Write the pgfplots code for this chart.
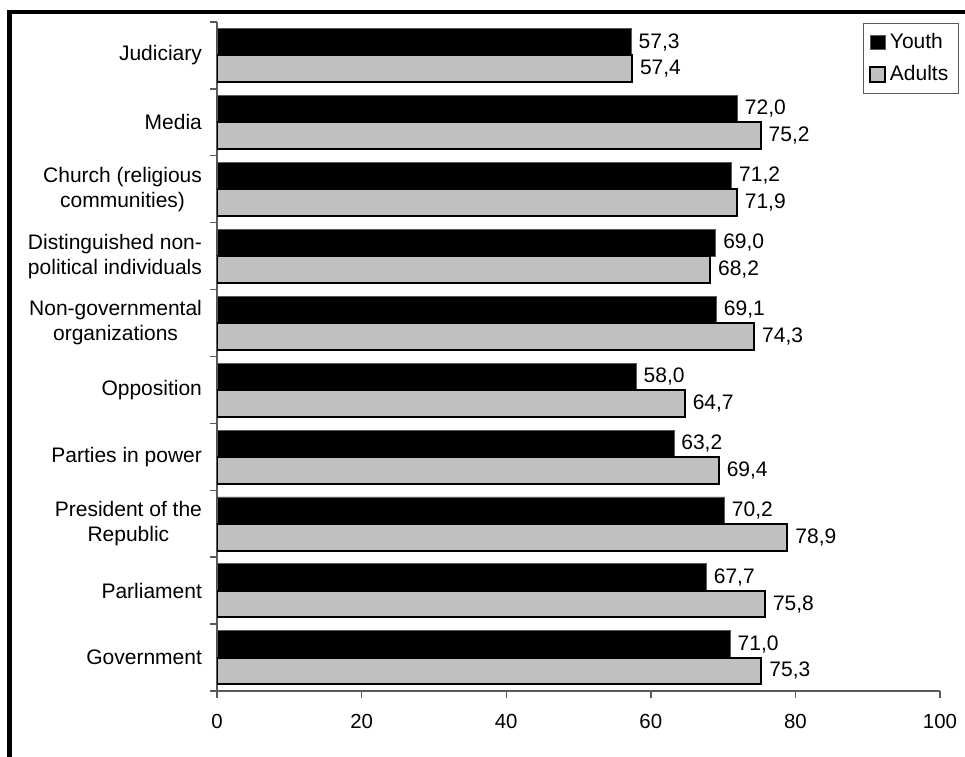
\documentclass[border=0pt]{standalone}
\usepackage{fontspec}
\setmainfont{Liberation Sans}
\usepackage{pgfplots}
\usepackage{pgfplotstable}
\pgfplotsset{compat=1.18}

% Trust in institutions (%), youth vs. adults; row 0 is the bottom category
\pgfplotstableread{
idx youth adults
0 71.0 75.3
1 67.7 75.8
2 70.2 78.9
3 63.2 69.4
4 58.0 64.7
5 69.1 74.3
6 69.0 68.2
7 71.2 71.9
8 72.0 75.2
9 57.3 57.4
}\trusttable

\definecolor{adultgray}{RGB}{192,192,192}
\definecolor{axisgray}{RGB}{90,90,90}

\begin{document}
\begin{tikzpicture}
\useasboundingbox (0,0) rectangle (482.5pt,378pt);
% heavy frame along the left and top
\draw[line width=2.4pt, line join=miter] (4.6pt,-5pt) -- (4.6pt,372pt) -- (490pt,372pt);
\begin{axis}[
  at={(108.5pt,32.5pt)}, anchor=south west,
  scale only axis, width=361.5pt, height=334.5pt,
  xbar, bar width=0.4,
  xmin=0, xmax=100, ymin=-0.5, ymax=9.5,
  axis x line*=bottom, axis y line*=left,
  axis line style={axisgray, line width=0.7pt},
  tick align=outside,
  tick style={axisgray, line width=0.7pt},
  major tick length=3.5pt,
  xtick={0,20,...,100},
  ytick={-0.5,0.5,...,9.5}, yticklabels={},
  extra y ticks={0,1,...,9},
  extra y tick labels={Government, Parliament, {President of the\\Republic},
    Parties in power, Opposition, {Non-governmental\\organizations},
    {Distinguished non-\\political individuals}, {Church (religious\\communities)},
    Media, Judiciary},
  extra y tick style={major tick length=0pt},
  yticklabel style={align=center, font=\fontsize{10.5}{12.5}\selectfont, xshift=-4pt},
  xticklabel style={font=\fontsize{10.2}{12}\selectfont, yshift=-4.5pt},
  /pgf/number format/assume math mode=true,
  legend style={at={(1.026,0.999)}, anchor=north east,
    draw=axisgray, line width=0.5pt, fill=white,
    font=\fontsize{10.5}{12.5}\selectfont,
    inner xsep=3pt, inner ysep=3pt, row sep=3pt,
    /tikz/every odd column/.append style={column sep=0pt}},
  legend cell align=left,
  legend image code/.code={\draw[#1] (0pt,-3.6pt) rectangle (7.4pt,3.6pt);},
  nodes near coords={\pgfmathprintnumber[assume math mode=true,use comma,fixed,fixed zerofill,precision=1]{\pgfplotspointmeta}},
  nodes near coords style={font=\fontsize{10.5}{12.5}\selectfont, anchor=west, inner sep=3.5pt, text=black},
]
\addplot[fill=black, draw=axisgray, line width=0.4pt, bar shift=0.2]
  table[x=youth, y=idx] {\trusttable};
\addlegendentry{Youth}
\addplot[fill=adultgray, draw=black, line width=1pt, bar shift=-0.2]
  table[x=adults, y=idx] {\trusttable};
\addlegendentry{Adults}
\end{axis}
\end{tikzpicture}
\end{document}
